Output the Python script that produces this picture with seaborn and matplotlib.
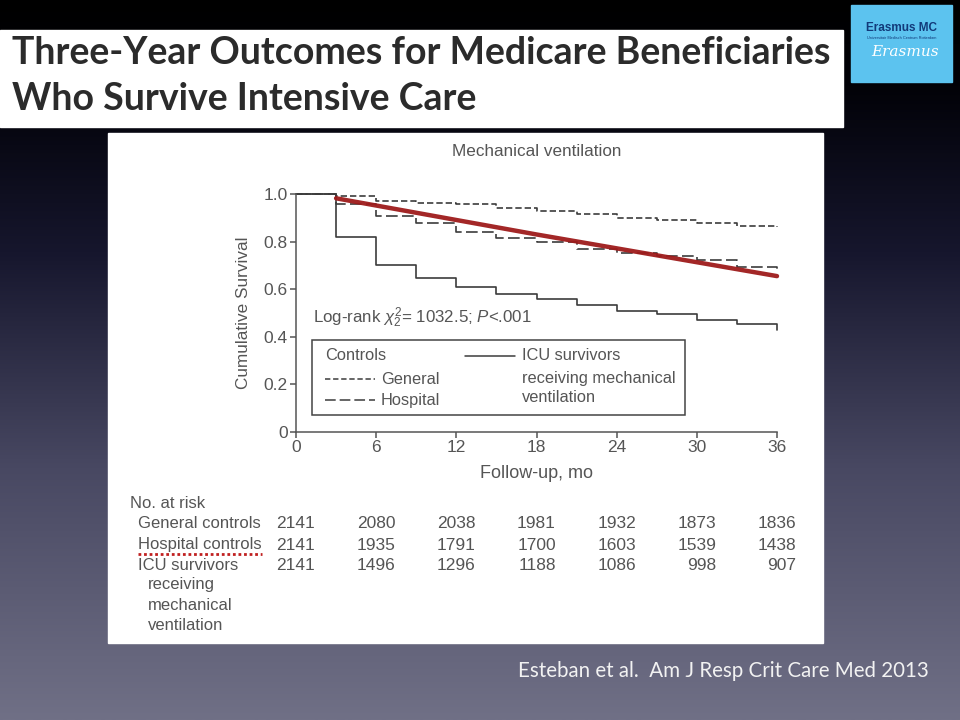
import numpy as np
import pandas as pd
import matplotlib
matplotlib.use('Agg')
import matplotlib.pyplot as plt
import matplotlib.transforms as mtransforms
from matplotlib.patches import Rectangle
import seaborn as sns

# --- data ---
months = [0, 3, 6, 9, 12, 15, 18, 21, 24, 27, 30, 33, 36]
general = [1.0, 0.99, 0.972, 0.962, 0.957, 0.943, 0.927, 0.915, 0.90, 0.89, 0.878, 0.866, 0.86]
hospital = [1.0, 0.96, 0.908, 0.877, 0.842, 0.815, 0.80, 0.769, 0.751, 0.738, 0.722, 0.695, 0.68]
icu = [1.0, 0.821, 0.703, 0.646, 0.610, 0.579, 0.557, 0.533, 0.510, 0.494, 0.469, 0.452, 0.43]

trend_months = [3, 18, 36]
trend_values = [0.982, 0.830, 0.655]

risk_months = [0, 6, 12, 18, 24, 30, 36]
risk_general = [2141, 2080, 2038, 1981, 1932, 1873, 1836]
risk_hospital = [2141, 1935, 1791, 1700, 1603, 1539, 1438]
risk_icu = [2141, 1496, 1296, 1188, 1086, 998, 907]

x_ticks = [0, 6, 12, 18, 24, 30, 36]
y_ticks = [0, 0.2, 0.4, 0.6, 0.8, 1.0]
y_ticklabels = ['0', '0.2', '0.4', '0.6', '0.8', '1.0']

sns.set_theme(style='ticks')
plt.rcParams['font.family'] = ['Liberation Sans', 'DejaVu Sans']
plt.rcParams['mathtext.fontset'] = 'custom'
plt.rcParams['mathtext.rm'] = 'Liberation Sans'
plt.rcParams['mathtext.it'] = 'Liberation Sans:italic'

fig = plt.figure(figsize=(9.6, 7.2), dpi=100)

# background slide in pixel coordinates
bg = fig.add_axes([0, 0, 1, 1])
bg.set_xlim(0, 960)
bg.set_ylim(720, 0)
bg.axis('off')
stops = np.array([0.0, 0.12, 0.35, 0.65, 1.0])
cols = np.array([[0, 0, 0], [2, 2, 8], [22, 22, 45], [72, 72, 98], [112, 112, 134]]) / 255.0
yy = np.linspace(0, 1, 400)
grad = np.stack([np.interp(yy, stops, cols[:, i]) for i in range(3)], axis=1)
bg.imshow(grad[:, None, :], extent=[0, 960, 720, 0], aspect='auto', zorder=0)

# title strip
bg.add_patch(Rectangle((0, 30), 843, 97, color='white', zorder=1))
title_kw = dict(fontfamily='Lato', fontweight='bold', fontsize=27, color='#2b2b2b', zorder=2)
bg.text(12, 64, 'Three-Year Outcomes for Medicare Beneficiaries', va='baseline', **title_kw)
bg.text(12, 110, 'Who Survive Intensive Care', va='baseline', **title_kw)

# logo
bg.add_patch(Rectangle((851, 5), 101, 77, color='#5cc3ef', zorder=1))
bg.text(902, 31, 'Erasmus MC', ha='center', fontsize=8.5, fontweight='bold',
        color='#123a7a', zorder=2)
bg.text(902, 39, 'Universitair Medisch Centrum Rotterdam', ha='center', fontsize=2.8,
        color='#123a7a', zorder=2)
bg.text(905, 56, 'Erasmus', ha='center', fontsize=11, style='italic',
        fontfamily='DejaVu Serif', color='white', zorder=2)

# chart panel
bg.add_patch(Rectangle((108, 133), 715, 510, color='white', zorder=1))
txt = '#555555'
bg.text(537, 151, 'Mechanical ventilation', ha='center', va='center', fontsize=12.3, color=txt, zorder=2)

# citation
bg.text(518, 677, 'Esteban et al.  Am J Resp Crit Care Med 2013', fontfamily='Lato',
        fontsize=14.8, color='#f2f2f2', va='baseline', zorder=2)

# --- survival plot ---
ax = fig.add_axes([296 / 960, 1 - 432 / 720, 481 / 960, 238 / 720])
ax.patch.set_alpha(0)
line_col = '#3c3c3c'

df = pd.DataFrame({'month': months, 'general': general, 'hospital': hospital, 'icu': icu})
sns.lineplot(data=df, x='month', y='general', ax=ax, drawstyle='steps-post',
             color=line_col, lw=1.2, clip_on=False)
ax.lines[-1].set_dashes((3.8, 1.8))
sns.lineplot(data=df, x='month', y='hospital', ax=ax, drawstyle='steps-post',
             color=line_col, lw=1.2, clip_on=False)
ax.lines[-1].set_dashes((7, 2.6))
sns.lineplot(data=df, x='month', y='icu', ax=ax, drawstyle='steps-post',
             color=line_col, lw=1.2, clip_on=False)
sns.lineplot(x=trend_months, y=trend_values, ax=ax, color='#9e1b1b', lw=3.2,
             alpha=0.95, clip_on=False)

ax.set_xlim(0, 36)
ax.set_ylim(0, 1.0)
ax.set_xticks(x_ticks)
ax.set_yticks(y_ticks)
ax.set_yticklabels(y_ticklabels)
sns.despine(ax=ax)
for s in ['left', 'bottom']:
    ax.spines[s].set_color('#555555')
    ax.spines[s].set_linewidth(1.1)
ax.tick_params(direction='out', length=4, width=1.1, color='#555555',
               labelcolor=txt, labelsize=12.5, pad=2)
ax.set_xlabel('Follow-up, mo', fontsize=13, color=txt)
ax.set_ylabel('Cumulative Survival', fontsize=12.3, color=txt)
ax.xaxis.set_label_coords(0.5, (432 - 473) / 238)
ax.xaxis.label.set_va('center')
ax.yaxis.set_label_coords((243 - 296) / 481, 0.5)
ax.yaxis.label.set_va('center')
ax.yaxis.label.set_ha('center')

ax.text(0.035, 0.48, r'Log-rank $\chi_2^2$= 1032.5; $P$<.001', transform=ax.transAxes,
        fontsize=12.2, color=txt, va='center')

# legend box (pixel coordinates on the slide)
bg.add_patch(Rectangle((312, 340), 373, 75, fill=False, edgecolor='#444444', lw=1.1, zorder=3))
leg_kw = dict(fontsize=11.8, color=txt, va='center', zorder=4)
bg.text(325, 356, 'Controls', **leg_kw)
bg.plot([325, 375], [379, 379], color=line_col, lw=1.1, dashes=(3.5, 1.8), zorder=4)
bg.text(381, 379, 'General', **leg_kw)
bg.plot([325, 375], [400, 400], color=line_col, lw=1.1, dashes=(7, 2.6), zorder=4)
bg.text(381, 400, 'Hospital', **leg_kw)
bg.plot([465, 515], [356, 356], color=line_col, lw=1.1, zorder=4)
bg.text(522, 356, 'ICU survivors', **leg_kw)
bg.text(522, 378, 'receiving mechanical', **leg_kw)
bg.text(522, 398, 'ventilation', **leg_kw)

# number at risk table
tab_kw = dict(fontsize=12, color=txt, va='center', zorder=4)
bg.text(130, 503, 'No. at risk', **tab_kw)
bg.text(138, 524, 'General controls', **tab_kw)
bg.text(138, 545, 'Hospital controls', **tab_kw)
bg.text(138, 565, 'ICU survivors', **tab_kw)
bg.text(148, 585, 'receiving', **tab_kw)
bg.text(148, 605, 'mechanical', **tab_kw)
bg.text(148, 626, 'ventilation', **tab_kw)
bg.plot([138, 262], [554, 554], color='#c02020', lw=2, ls=(0, (1, 1)), zorder=4)

blend = mtransforms.blended_transform_factory(ax.transData, bg.transData)
num_kw = dict(tab_kw, fontsize=12.5)
for row_y, counts in zip([524, 545, 565], [risk_general, risk_hospital, risk_icu]):
    for m, n in zip(risk_months, counts):
        ax.text(m + 1.45, row_y, str(n), transform=blend, ha='right', clip_on=False, **num_kw)

fig.savefig('out.png', dpi=100)
